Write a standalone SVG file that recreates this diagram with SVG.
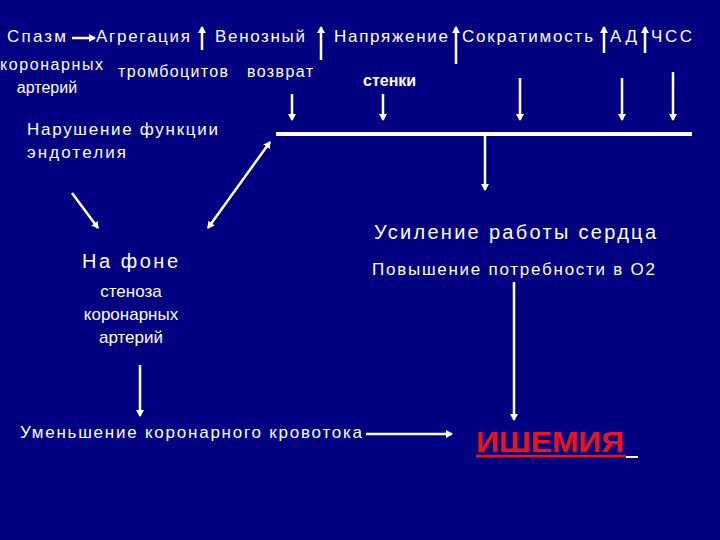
<svg xmlns="http://www.w3.org/2000/svg" width="720" height="540" viewBox="0 0 720 540">
<defs>
<marker id="ah" markerWidth="8" markerHeight="8" refX="6" refY="4" orient="auto" markerUnits="userSpaceOnUse"><path d="M0,0 L7,4 L0,8 Z" fill="#fff"/></marker>
<marker id="as" markerWidth="8" markerHeight="8" refX="1" refY="4" orient="auto" markerUnits="userSpaceOnUse"><path d="M7,0 L0,4 L7,8 Z" fill="#fff"/></marker>
<style>
text{font-family:"Liberation Sans",Arial,sans-serif;fill:#fff}
.t{font-size:17px}.s{font-size:16px}
.c line{stroke:#fff;stroke-width:2.5;marker-end:url(#ah)}
</style>
</defs>
<rect width="720" height="540" fill="#010080"/>
<g id="top">
<text class="t" x="7" y="42" textLength="59">Спазм</text>
<text class="t" x="96" y="42" textLength="94">Агрегация</text>
<text class="t" x="215" y="42" textLength="90">Венозный</text>
<text class="t" x="334" y="42" textLength="114">Напряжение</text>
<text class="t" x="462" y="42" textLength="131">Сократимость</text>
<text class="t" x="610" y="42" textLength="27">АД</text>
<text class="t" x="651" y="42" textLength="41">ЧСС</text>
<text class="s" x="0" y="70" textLength="103">коронарных</text>
<text class="s" x="47" y="93" text-anchor="middle">артерий</text>
<text class="s" x="118" y="77" textLength="110">тромбоцитов</text>
<text class="s" x="247" y="77" textLength="66">возврат</text>
<text class="s" x="363" y="86" font-weight="bold" font-size="14">стенки</text>
</g>
<g id="endo"><text class="t" x="27" y="135" textLength="191">Нарушение функции</text><text class="t" x="27" y="158" textLength="99">эндотелия</text></g>
<g id="fon"><text x="82" y="268" font-size="20" textLength="96">На фоне</text>
<text class="t" x="131" y="297" text-anchor="middle">стеноза</text>
<text class="t" x="131" y="320" text-anchor="middle">коронарных</text>
<text class="t" x="131" y="343" text-anchor="middle">артерий</text></g>
<g id="heart"><text x="374" y="239" font-size="20" textLength="282">Усиление работы сердца</text>
<text class="t" x="372" y="275" textLength="283">Повышение потребности в О2</text></g>
<g id="flow"><text class="t" x="20" y="438" textLength="342">Уменьшение коронарного кровотока</text></g>
<g id="isch"><text x="476" y="452" font-size="30" font-weight="bold" style="fill:#e8141a" textLength="148" lengthAdjust="spacingAndGlyphs">ИШЕМИЯ</text>
<line x1="476" y1="456" x2="626" y2="456" stroke="#e8141a" stroke-width="2.5"/>
<line x1="626" y1="457" x2="638" y2="457" stroke="#fff" stroke-width="2"/></g>
<g class="c" id="connectors">
<line x1="72" y1="38" x2="95" y2="38"/>
<line x1="202" y1="50" x2="202" y2="27"/>
<line x1="321" y1="60" x2="321" y2="27"/>
<line x1="456" y1="64" x2="456" y2="27"/>
<line x1="604" y1="53" x2="604" y2="27"/>
<line x1="645" y1="53" x2="645" y2="27"/>
<line x1="292" y1="94" x2="292" y2="120"/>
<line x1="383" y1="94" x2="383" y2="120"/>
<line x1="520" y1="78" x2="520" y2="120"/>
<line x1="622" y1="78" x2="622" y2="120"/>
<line x1="673" y1="72" x2="673" y2="120"/>
<line x1="276" y1="134" x2="692" y2="134" style="stroke-width:4;marker-end:none"/>
<line x1="485" y1="134" x2="485" y2="190"/>
<line x1="72" y1="193" x2="98" y2="228"/>
<line x1="208" y1="228" x2="270" y2="142" style="marker-start:url(#as)"/>
<line x1="140" y1="365" x2="140" y2="416"/>
<line x1="366" y1="434" x2="452" y2="434"/>
<line x1="514" y1="282" x2="514" y2="420"/>
</g>
</svg>
